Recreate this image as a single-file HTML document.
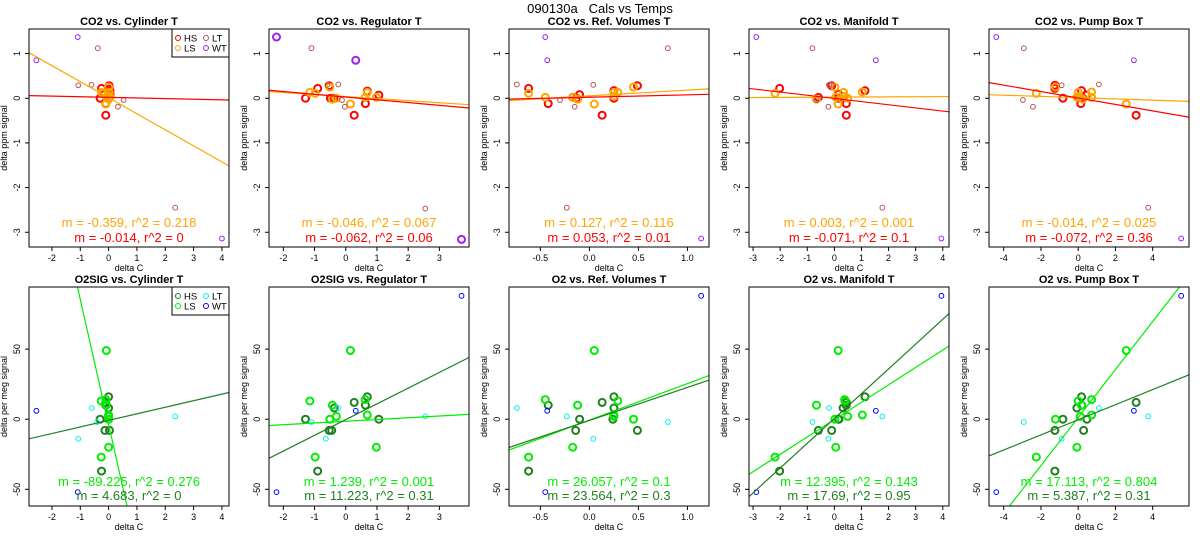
<!DOCTYPE html>
<html><head><meta charset="utf-8"><style>
html,body{margin:0;padding:0;background:#fff;width:1200px;height:550px;overflow:hidden;}
svg{display:block;font-family:"Liberation Sans",sans-serif;}
</style></head><body>
<svg id="chart" width="1200" height="550" viewBox="0 0 1200 550" xmlns="http://www.w3.org/2000/svg">
<text x="600" y="13" text-anchor="middle" font-size="13">090130a&#160;&#160;&#160;Cals vs Temps</text>
</svg>
<script>
// ---- data ----
const panelTitles = ["CO2 vs. Cylinder T","CO2 vs. Regulator T","CO2 vs. Ref. Volumes T","CO2 vs. Manifold T","CO2 vs. Pump Box T",
 "O2SIG vs. Cylinder T","O2SIG vs. Regulator T","O2 vs. Ref. Volumes T","O2 vs. Manifold T","O2 vs. Pump Box T"];
const xRanges = [[-2.81,4.25],[-2.46,3.95],[-0.82,1.22],[-3.15,4.23],[-4.79,5.95]];
const xTicks = [[-2,-1,0,1,2,3,4],[-2,-1,0,1,2,3],[-0.5,0,0.5,1.0],[-3,-2,-1,0,1,2,3,4],[-4,-2,0,2,4]];
const xTickLabels = [["-2","-1","0","1","2","3","4"],["-2","-1","0","1","2","3"],["-0.5","0.0","0.5","1.0"],["-3","-2","-1","0","1","2","3","4"],["-4","-2","0","2","4"]];
const yRanges = [[-3.33,1.55],[-61.9,94.3]];
const yTicks = [[-3,-2,-1,0,1],[-50,0,50]];
const yLabels = ["delta ppm signal","delta per meg signal"];
const groupNames = ["HS","LS","LT","WT"];
const co2Colors = ["#ff0000","#ffa500","#b85555","#a020f0"];
const o2Colors = ["#1f7f1f","#00ee00","#00f0f0","#0000ff"];

const co2HS = [
 [[0.02,0.28],[-0.25,0.22],[0.02,0.2],[-0.3,0],[0.05,0.08],[-0.1,-0.38],[-0.1,-0.12],[0.05,0.16],[0,0.02]],
 [[-1.29,0],[-0.9,0.22],[-0.53,0.28],[-0.49,0],[-0.38,0],[0.27,-0.38],[0.63,-0.12],[0.69,0.16],[1.06,0.07]],
 [[-0.62,0.22],[-0.42,-0.12],[-0.1,0.08],[0.13,-0.38],[0.25,0.17],[0.25,0],[0.49,0.28],[-0.13,0],[-0.17,0.02]],
 [[-2.02,0.22],[-0.59,0.02],[0.15,0.09],[0.44,-0.38],[0.44,-0.12],[1.13,0.17],[-0.1,0.28],[0.15,0],[0.34,0.04]],
 [[-1.25,0.29],[-1.25,0.22],[-0.82,0],[0.18,0.17],[0.14,-0.12],[0.43,0.07],[3.11,-0.38],[0.25,0],[0,0.02]]];
const co2LS = [
 [[-0.25,0.13],[-0.2,0.1],[0,0.25],[0,-0.02],[-0.05,0],[-0.1,-0.13],[0.02,0.13],[0.05,0.02],[0.02,0.05]],
 [[-1.15,0.13],[-0.98,0.11],[-0.51,0.25],[-0.43,-0.02],[-0.3,0],[0.15,-0.13],[0.62,0.02],[0.69,0.13],[0.98,0.02]],
 [[-0.62,0.11],[-0.45,0.02],[-0.17,0.02],[-0.12,-0.02],[0.05,-0.13],[0.25,0.13],[0.29,0.13],[0.45,0.25],[0.25,0.04]],
 [[-2.19,0.11],[-0.66,-0.02],[0.02,0.25],[0.34,0.13],[0.14,-0.13],[0.49,0],[1.03,0.14],[0.05,0.02],[0.37,0.04]],
 [[-1.22,0.25],[-2.25,0.11],[0,0.13],[-0.07,0.02],[0.72,0.14],[0.72,0.02],[2.58,-0.13],[0.25,-0.02],[0.07,0.04]]];
const co2LT = [
 [[-0.38,1.12],[-1.07,0.29],[-0.6,0.3],[0.53,-0.04],[2.35,-2.45],[0.33,-0.19]],
 [[-1.1,1.12],[-0.24,0.31],[-0.59,0.3],[-0.12,-0.04],[2.55,-2.47],[-0.03,-0.19]],
 [[0.8,1.12],[-0.74,0.31],[0.04,0.3],[-0.3,-0.04],[-0.23,-2.45],[-0.15,-0.19]],
 [[-0.81,1.12],[-0.2,0.3],[-0.1,0.3],[-0.66,-0.04],[1.77,-2.45],[-0.22,-0.19]],
 [[-2.92,1.12],[-0.89,0.29],[1.11,0.31],[-2.97,-0.04],[3.76,-2.45],[-2.43,-0.19]]];
const co2WT = [
 [[-1.09,1.37],[-2.55,0.85],[4.0,-3.14]],
 [[-2.22,1.37],[0.32,0.85],[3.71,-3.16]],
 [[-0.45,1.37],[-0.43,0.85],[1.14,-3.14]],
 [[-2.88,1.37],[1.53,0.85],[3.95,-3.14]],
 [[-4.4,1.37],[2.99,0.85],[5.53,-3.14]]];
const o2HS = [
 [[0,16],[-0.1,12],[0,8],[-0.3,0],[-0.13,-8],[0.03,-8],[-0.25,-37],[-0.1,10],[0,0]],
 [[-1.29,0],[-0.9,-37],[-0.53,-8],[-0.45,-8],[-0.37,8],[0.27,12],[0.63,10],[0.69,16],[1.06,0]],
 [[-0.42,10],[-0.14,-8],[-0.1,0],[0.13,12],[0.25,16],[0.25,8],[0.24,0],[0.49,-8],[-0.62,-37]],
 [[-2.02,-37],[-0.59,-8],[-0.1,-8],[0.15,0],[0.32,8],[0.44,10],[0.44,12],[1.13,16],[0.17,0]],
 [[-1.25,-8],[-1.25,-37],[-0.82,0],[0.18,16],[-0.07,8],[0.18,10],[0.29,-8],[0.47,0],[3.11,12]]];
const o2LS = [
 [[-0.08,49],[-0.26,13],[-0.1,14],[-0.08,10],[0,3],[0,2],[0,0],[0,-20],[-0.26,-27]],
 [[-1.15,13],[-0.98,-27],[-0.51,0],[-0.43,10],[-0.3,2],[0.15,49],[0.62,14],[0.69,3],[0.98,-20]],
 [[-0.45,14],[-0.62,-27],[-0.17,-20],[-0.12,10],[0.05,49],[0.25,3],[0.25,2],[0.29,13],[0.45,0]],
 [[-2.19,-27],[-0.66,10],[0.14,49],[0.05,-20],[0.02,0],[0.38,14],[0.39,13],[0.49,2],[1.03,3]],
 [[-1.22,0],[-2.25,-27],[0,13],[-0.07,-20],[0.11,2],[0.72,14],[0.72,3],[2.58,49],[0.18,10]]];
const o2LT = [
 [[-0.6,8],[2.35,2],[-0.41,-2],[-1.07,-14]],
 [[-0.24,8],[-1.1,-2],[2.55,2],[-0.64,-14]],
 [[-0.74,8],[-0.23,2],[0.8,-2],[0.04,-14]],
 [[-0.2,8],[-0.81,-2],[1.77,2],[-0.22,-14]],
 [[-2.92,-2],[1.11,8],[3.76,2],[-0.89,-14]]];
const o2WT = [
 [[-2.55,6],[-1.09,-52]],
 [[-2.22,-52],[0.32,6],[3.71,88]],
 [[-0.45,-52],[-0.43,6],[1.14,88]],
 [[-2.88,-52],[1.53,6],[3.95,88]],
 [[-4.4,-52],[2.99,6],[5.53,88]]];
const lsSlopes = [-0.359,-0.046,0.127,0.003,-0.014,-89.225,1.239,26.057,12.395,17.113];
const lsIntercepts = [0.011,0.037,0.054,0.025,0.013,-3.8,-1.45,-0.63,-0.26,1.2];
const lsR2 = ["0.218","0.067","0.116","0.001","0.025","0.276","0.001","0.1","0.143","0.804"];
const hsSlopes = [-0.014,-0.062,0.053,-0.071,-0.072,4.683,11.223,23.564,17.69,5.387];
const hsIntercepts = [0.02,0.027,0.023,-0.004,0.005,-0.84,-0.3,-0.88,0.5,-0.4];
const hsR2 = ["0","0.06","0.01","0.1","0.36","0","0.31","0.3","0.95","0.31"];

// ---- drawing ----
const NS="http://www.w3.org/2000/svg";
const svg=document.getElementById('chart');
function mk(tag,attrs,parent){const e=document.createElementNS(NS,tag);for(const k in attrs)e.setAttribute(k,attrs[k]);(parent||svg).appendChild(e);return e;}
function fmt(v){return (Math.round(v*1000)/1000).toString();}

for(let p=0;p<10;p++){
  const row=Math.floor(p/5), col=p%5;
  const L=29+240*col, R=L+200, T=row?287:29, B=row?506:247;
  const [x0,x1]=xRanges[col], [y0,y1]=yRanges[row];
  const sx=v=>L+(v-x0)/(x1-x0)*(R-L);
  const sy=v=>B-(v-y0)/(y1-y0)*(B-T);
  const g=mk('g',{});
  
  
  const cp=mk('clipPath',{id:'clip'+p},g);
  mk('rect',{x:L,y:T,width:R-L,height:B-T},cp);
  const t=mk('text',{x:(L+R)/2,y:T-4,'text-anchor':'middle','font-size':'11','font-weight':'bold'},g);
  t.textContent=panelTitles[p];
  
  
  xTicks[col].forEach((v,i)=>{
    const x=sx(v);
    mk('line',{x1:x,x2:x,y1:B,y2:B+4,stroke:'#000','stroke-width':1},g);
    const tl=mk('text',{x:x,y:B+14,'text-anchor':'middle','font-size':'9'},g);
    tl.textContent=xTickLabels[col][i];
    
    
  });
  yTicks[row].forEach(v=>{
    const y=sy(v);
    mk('line',{x1:L-4,x2:L,y1:y,y2:y,stroke:'#000','stroke-width':1},g);
    const tl=mk('text',{x:L-9,y:y,'text-anchor':'middle','font-size':'9',transform:`rotate(-90 ${L-9} ${y})`},g);
    tl.textContent=v.toString();
    
    
  });
  const xl=mk('text',{x:(L+R)/2,y:B+24,'text-anchor':'middle','font-size':'9'},g);
  xl.textContent='delta C';
  
  
  const yx=L-22, yy=(T+B)/2;
  const yl=mk('text',{x:yx,y:yy,'text-anchor':'middle','font-size':'9',transform:`rotate(-90 ${yx} ${yy})`},g);
  yl.textContent=yLabels[row];
  
  
  const colors=row?o2Colors:co2Colors;
  const groups=row?[o2HS[col],o2LS[col],o2LT[col],o2WT[col]]:[co2HS[col],co2LS[col],co2LT[col],co2WT[col]];
  const pg=mk('g',{'clip-path':`url(#clip${p})`},g);
  groups.forEach((pts,gi)=>{
    const thick = gi<2 || (p===1 && gi===3);
    pts.forEach(pt=>{
      const c=mk('circle',{cx:sx(pt[0]),cy:sy(pt[1]),r:thick?3.5:2.4,fill:'none',stroke:colors[gi],'stroke-width':thick?2:1},pg);
      
      
    });
  });
  const lines=[[lsSlopes[p],lsIntercepts[p],colors[1]],[hsSlopes[p],hsIntercepts[p],colors[0]]];
  lines.forEach((ln,li)=>{
    const l=mk('line',{x1:sx(x0),y1:sy(ln[1]+ln[0]*x0),x2:sx(x1),y2:sy(ln[1]+ln[0]*x1),stroke:ln[2],'stroke-width':1.2},pg);
    
    
  });
  mk('rect',{x:L,y:T,width:R-L,height:B-T,fill:'none',stroke:'#000','stroke-width':1},g);
  const ty1=row?486:227, ty2=row?500:242;
  const s1=mk('text',{x:(L+R)/2,y:ty1,'text-anchor':'middle','font-size':'13',fill:colors[1]},g);
  s1.textContent=`m = ${fmt(lsSlopes[p])}, r^2 = ${lsR2[p]}`;
  
  
  const s2=mk('text',{x:(L+R)/2,y:ty2,'text-anchor':'middle','font-size':'13',fill:colors[0]},g);
  s2.textContent=`m = ${fmt(hsSlopes[p])}, r^2 = ${hsR2[p]}`;
  
  
  if(col===0){
    const lg=mk('g',{},g);
    
    
    mk('rect',{x:R-57,y:T,width:57,height:28,fill:'#fff',stroke:'#000','stroke-width':1},lg);
    const pos=[[R-51,T+9],[R-51,T+19],[R-23,T+9],[R-23,T+19]];
    groupNames.forEach((n,gi)=>{
      const e=mk('g',{},lg);
      
      
      mk('circle',{cx:pos[gi][0],cy:pos[gi][1],r:2.5,fill:'none',stroke:colors[gi],'stroke-width':1},e);
      const tx=mk('text',{x:pos[gi][0]+6,y:pos[gi][1]+3.5,'font-size':'9.5'},e);
      tx.textContent=n;
    });
  }
}
</script>
</body></html>
